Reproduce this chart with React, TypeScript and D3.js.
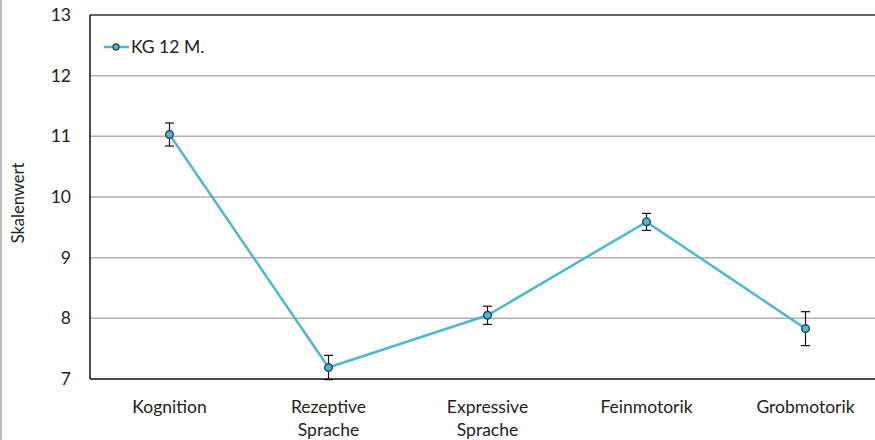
import React from "react";
import * as d3 from "d3";

const categories = ["Kognition", "Rezeptive\nSprache", "Expressive\nSprache", "Feinmotorik", "Grobmotorik"];
const means = [11.03, 7.19, 8.05, 9.59, 7.83];
const errors = [0.19, 0.2, 0.15, 0.14, 0.28];
const yTicks = [7, 8, 9, 10, 11, 12, 13];
const seriesName = "KG 12 M.";

const W = 875, H = 440;
const left = 90, right = 885, top = 15, bottom = 379;
const color = "#4DB8D2";
const font = "Lato, 'Open Sans', sans-serif";

export default function App() {
  const x = d3.scaleBand<string>().domain(categories).range([left, right]);
  const y = d3.scaleLinear().domain([7, 13]).range([bottom, top]);
  const cx = (c: string) => (x(c) ?? 0) + x.bandwidth() / 2;
  const line = d3.line<number>().x((_, i) => cx(categories[i])).y((d) => y(d));
  return (
    <svg width={W} height={H} style={{ position: "absolute", left: 0, top: 0 }} fontFamily={font}>
      <rect x={0} y={0} width={W} height={H} fill="#fff" />
      <line x1={1} x2={1} y1={0} y2={H} stroke="#bbb" strokeWidth={2} />
      {yTicks.map((t) => (
        <g key={t}>
          {t !== 7 && t !== 13 && (
            <line x1={left} x2={W} y1={y(t)} y2={y(t)} stroke="#b0b0b0" strokeWidth={1.5} />
          )}
          <text x={71} y={y(t)} dy="0.35em" textAnchor="end" fontSize={17.5} fill="#222">{t}</text>
        </g>
      ))}
      <line x1={left} x2={W} y1={top} y2={top} stroke="#333" strokeWidth={1.5} />
      <line x1={left} x2={W} y1={bottom} y2={bottom} stroke="#111" strokeWidth={1.5} />
      <line x1={left} x2={left} y1={top} y2={bottom} stroke="#111" strokeWidth={1.5} />
      <text transform={`translate(24,${(top + bottom) / 2 + 6}) rotate(-90)`} textAnchor="middle" fontSize={16.5} fill="#222">Skalenwert</text>
      {categories.map((c) => (
        <text key={c} x={cx(c)} y={413} textAnchor="middle" fontSize={17.5} fill="#222">
          {c.split("\n").map((s, i) => (
            <tspan key={i} x={cx(c)} dy={i === 0 ? 0 : 23}>{s}</tspan>
          ))}
        </text>
      ))}
      <path d={line(means) ?? ""} fill="none" stroke={color} strokeWidth={2.5} />
      {means.map((m, i) => {
        const px = cx(categories[i]);
        return (
          <g key={i}>
            <line x1={px} x2={px} y1={y(m + errors[i])} y2={y(m - errors[i])} stroke="#111" strokeWidth={1.2} />
            <line x1={px - 4.5} x2={px + 4.5} y1={y(m + errors[i])} y2={y(m + errors[i])} stroke="#111" strokeWidth={1.2} />
            <line x1={px - 4.5} x2={px + 4.5} y1={y(m - errors[i])} y2={y(m - errors[i])} stroke="#111" strokeWidth={1.2} />
            <circle cx={px} cy={y(m)} r={3.8} fill={color} stroke="#2b4a55" strokeWidth={1.5} />
          </g>
        );
      })}
      <line x1={104} x2={129} y1={47} y2={47} stroke={color} strokeWidth={2.5} />
      <circle cx={116} cy={47} r={3} fill={color} stroke="#2b4a55" strokeWidth={1.3} />
      <text x={131} y={47} dy="0.35em" fontSize={17.5} fill="#222">{seriesName}</text>
    </svg>
  );
}
